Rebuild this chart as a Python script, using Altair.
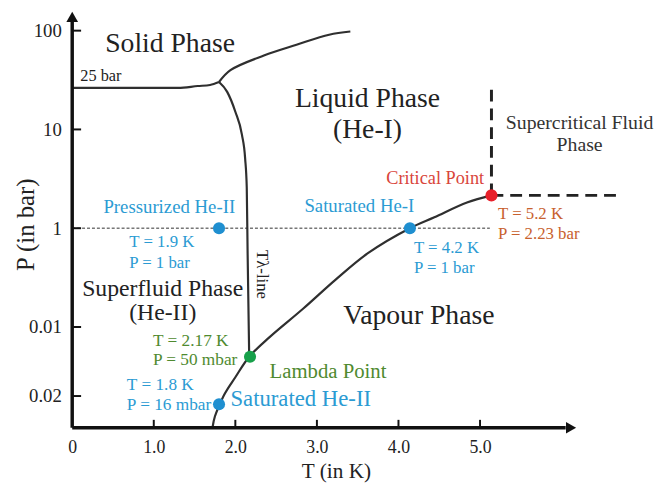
import altair as alt
import pandas as pd

# ---------------- data ----------------
# saturated vapour curve  (T in K, P in bar)
vap_T = [1.72, 1.75, 1.86, 2.00, 2.17, 2.42, 2.83, 3.23, 3.63, 4.14, 4.44, 4.84, 5.14]
vap_P = [0.0096, 0.0125, 0.0204, 0.031, 0.050, 0.079, 0.153, 0.302, 0.562, 1.0, 1.29, 1.82, 2.15]
# lambda line
lam_T = [1.80, 1.90, 2.00, 2.08, 2.12, 2.14, 2.15, 2.17]
lam_P = [30.2, 24.0, 15.1, 8.9, 5.1, 2.57, 0.60, 0.05]
# melting line (He-II / solid, "25 bar")
melt_T = [0.0, 1.30, 1.54, 1.69, 1.80]
melt_P = [26.3, 26.3, 27.5, 28.2, 30.2]
# melting line (He-I / solid)
sol_T = [1.80, 1.94, 2.35, 2.75, 3.15, 3.41]
sol_P = [30.2, 39.8, 56.0, 72.0, 91.0, 98.0]

# special points
pt_names = ["Pressurized He-II", "Saturated He-I", "Critical Point", "Lambda Point", "Saturated He-II"]
pt_T = [1.80, 4.14, 5.14, 2.18, 1.80]
pt_P = [1.0, 1.0, 2.15, 0.05, 0.0165]
pt_col = ["#1f8fd0", "#1f8fd0", "#e8202a", "#17a04a", "#1f8fd0"]

# reference lines
iso_T = [0.0, 5.12]          # dotted isobar at 1 bar
iso_P = [1.0, 1.0]
crit_vT = [5.14, 5.14]       # dashed vertical from critical point
crit_vP = [2.15, 27.0]
crit_hT = [5.14, 6.74]       # dashed horizontal from critical point
crit_hP = [2.15, 2.15]

# axes
x_ticks = [1, 2, 3, 4, 5]
x_labels = ["0", "1.0", "2.0", "3.0", "4.0", "5.0"]
x_label_vals = [0, 1, 2, 3, 4, 5]
y_tick_vals = [0.02, 0.1, 1, 10, 100]
y_tick_labels = ["0.02", "0.01", "1", "10", "100"]

# annotations: text, T, P, colour, font size, align
BLK, BLU, GRN, ORG, RED, GRY = "#222222", "#2b9bd3", "#4f8a2f", "#c8612e", "#d9453b", "#333333"
ann = [
    ("Solid Phase", 1.20, 60.3, BLK, 28, "center"),
    ("25 bar", 0.10, 30.9, BLK, 16.5, "left"),
    ("Liquid Phase", 3.62, 17.0, BLK, 28, "center"),
    ("(He-I)", 3.62, 8.13, BLK, 28, "center"),
    ("Supercritical Fluid", 6.22, 10.2, GRY, 20, "center"),
    ("Phase", 6.22, 6.03, GRY, 20, "center"),
    ("Critical Point", 5.05, 2.82, RED, 18.5, "right"),
    ("T = 5.2 K", 5.22, 1.23, ORG, 17, "left"),
    ("P = 2.23 bar", 5.22, 0.776, ORG, 17, "left"),
    ("Saturated He-I", 3.52, 1.445, BLU, 19, "center"),
    ("T = 4.2 K", 4.19, 0.562, BLU, 17, "left"),
    ("P = 1 bar", 4.19, 0.355, BLU, 17, "left"),
    ("Pressurized He-II", 1.19, 1.41, BLU, 19, "center"),
    ("T = 1.9 K", 0.70, 0.646, BLU, 17, "left"),
    ("P = 1 bar", 0.70, 0.398, BLU, 17, "left"),
    ("Superfluid Phase", 1.11, 0.204, BLK, 24, "center"),
    ("(He-II)", 1.11, 0.117, BLK, 24, "center"),
    ("T = 2.17 K", 0.99, 0.0646, GRN, 17.5, "left"),
    ("P = 50 mbar", 0.99, 0.0417, GRN, 17.5, "left"),
    ("Lambda Point", 2.42, 0.0302, GRN, 21, "left"),
    ("T = 1.8 K", 0.67, 0.0229, BLU, 17.5, "left"),
    ("P = 16 mbar", 0.67, 0.01445, BLU, 17.5, "left"),
    ("Saturated He-II", 1.94, 0.01585, BLU, 23, "left"),
    ("Vapour Phase", 4.25, 0.107, BLK, 28, "center"),
]
lam_label = ("Tλ-line", 2.32, 0.603)

# ---------------- chart ----------------
FONT = "Liberation Serif"
W, H = 578, 422

xs = alt.Scale(domain=[0, 7], nice=False, zero=False)
ys = alt.Scale(type="log", domain=[0.00955, 158.5], nice=False)

x_expr = " : ".join(
    f"datum.value == {v} ? '{l}'" for v, l in zip(x_label_vals, x_labels)
) + " : ''"
y_expr = " : ".join(
    f"datum.value == {v} ? '{l}'" for v, l in zip(y_tick_vals, y_tick_labels)
) + " : ''"

x_axis = alt.Axis(values=x_label_vals, labelExpr=x_expr, domain=False, ticks=False, tickSize=0,
                  grid=False, labelFont=FONT, labelFontSize=18, labelColor="#222",
                  labelPadding=11, labelFlush=False, labelOverlap=False,
                  title="T (in K)", titleFont=FONT, titleFontSize=21.5, titleFontWeight="normal",
                  titleColor="#222", titleX=267, titleY=50, titleAlign="center",
                  titleBaseline="alphabetic")
y_axis = alt.Axis(values=y_tick_vals, labelExpr=y_expr, domain=False, ticks=False, tickSize=0,
                  grid=False, labelFont=FONT, labelFontSize=19, labelColor="#222",
                  labelPadding=11, labelFlush=False, labelOverlap=False,
                  title="P (in bar)", titleFont=FONT, titleFontSize=25, titleFontWeight="normal",
                  titleColor="#222", titleX=-47, titleY=216, titleAlign="center",
                  titleBaseline="middle", titleAngle=-90)


def X(f):
    return alt.X(f, type="quantitative", scale=xs, axis=x_axis)


def Y(f):
    return alt.Y(f, type="quantitative", scale=ys, axis=y_axis)


def curve_df(series_list):
    rows = []
    for name, ts, ps in series_list:
        for i, (t, p) in enumerate(zip(ts, ps)):
            rows.append({"series": name, "order": i, "T": t, "P": p})
    return pd.DataFrame(rows)


smooth = alt.Chart(curve_df([("vap", vap_T, vap_P), ("sol", sol_T, sol_P)])).mark_line(
    color="#2f2f2f", strokeWidth=2.2, interpolate="catmull-rom").encode(
    x=X("T"), y=Y("P"), detail="series:N", order="order:Q")
steep = alt.Chart(curve_df([("lam", lam_T, lam_P), ("melt", melt_T, melt_P)])).mark_line(
    color="#2f2f2f", strokeWidth=2.2, interpolate="monotone").encode(
    x=X("T"), y=Y("P"), detail="series:N", order="order:Q")

iso = alt.Chart(pd.DataFrame({"T": iso_T, "P": iso_P})).mark_line(
    color="#777777", strokeWidth=1.6, strokeDash=[3, 2]).encode(x=X("T"), y=Y("P"))

dash_df = pd.DataFrame({"T": crit_vT + crit_hT, "P": crit_vP + crit_hP,
                        "seg": ["v", "v", "h", "h"]})
dashed = alt.Chart(dash_df).mark_line(color="#222222", strokeWidth=3, strokeDash=[12, 7]).encode(
    x=X("T"), y=Y("P"), detail="seg:N")

# axis lines, arrow heads and inward ticks
x_axis_line = alt.Chart(pd.DataFrame({"a": [0.0], "b": [6.05]})).mark_rule(
    color="#111", strokeWidth=3.5).encode(x=X("a"), x2="b:Q", y=alt.value(H))
y_axis_line = alt.Chart(pd.DataFrame({"a": [0.00955], "b": [140.0]})).mark_rule(
    color="#111", strokeWidth=3.5).encode(y=Y("a"), y2="b:Q", x=alt.value(0))
arrow_up = alt.Chart(pd.DataFrame({"k": [0]})).mark_point(
    shape="triangle-up", filled=True, color="#111", size=140, opacity=1).encode(
    x=alt.value(0), y=alt.value(6))
arrow_right = alt.Chart(pd.DataFrame({"k": [0]})).mark_point(
    shape="triangle-right", filled=True, color="#111", size=140, opacity=1).encode(
    x=alt.value(505), y=alt.value(H))
xt = alt.Chart(pd.DataFrame({"T": x_ticks})).mark_rule(color="#111", strokeWidth=2).encode(
    x=X("T"), y=alt.value(H), y2=alt.value(H - 8))
yt = alt.Chart(pd.DataFrame({"P": y_tick_vals})).mark_rule(color="#111", strokeWidth=2).encode(
    y=Y("P"), x=alt.value(0), x2=alt.value(9))

pts = alt.Chart(pd.DataFrame({"T": pt_T, "P": pt_P, "c": pt_col, "n": pt_names})).mark_circle(
    size=150, opacity=1).encode(x=X("T"), y=Y("P"), color=alt.Color("c:N", scale=None))

ann_df = pd.DataFrame(ann, columns=["text", "T", "P", "color", "fs", "align"])
text_layers = []
for al in ["left", "center", "right"]:
    sub = ann_df[ann_df["align"] == al]
    text_layers.append(
        alt.Chart(sub).mark_text(align=al, baseline="alphabetic", font=FONT).encode(
            x=X("T"), y=Y("P"), text="text:N",
            color=alt.Color("color:N", scale=None), size=alt.Size("fs:Q", scale=None)))

lam_txt = alt.Chart(pd.DataFrame({"text": [lam_label[0]], "T": [lam_label[1]], "P": [lam_label[2]]})).mark_text(
    align="left", baseline="middle", angle=90, font=FONT, fontSize=17, color="#222").encode(
    x=X("T"), y=Y("P"), text="text:N")

chart = alt.layer(
    iso, smooth, steep, dashed, x_axis_line, y_axis_line, arrow_up, arrow_right, xt, yt, pts,
    *text_layers, lam_txt
).properties(
    width=W, height=H,
    autosize=alt.AutoSizeParams(type="none"),
    padding={"left": 65, "top": 0, "right": 14, "bottom": 53},
).configure_view(stroke=None)

chart.save("out.html", embed_options={"renderer": "svg", "actions": False})
